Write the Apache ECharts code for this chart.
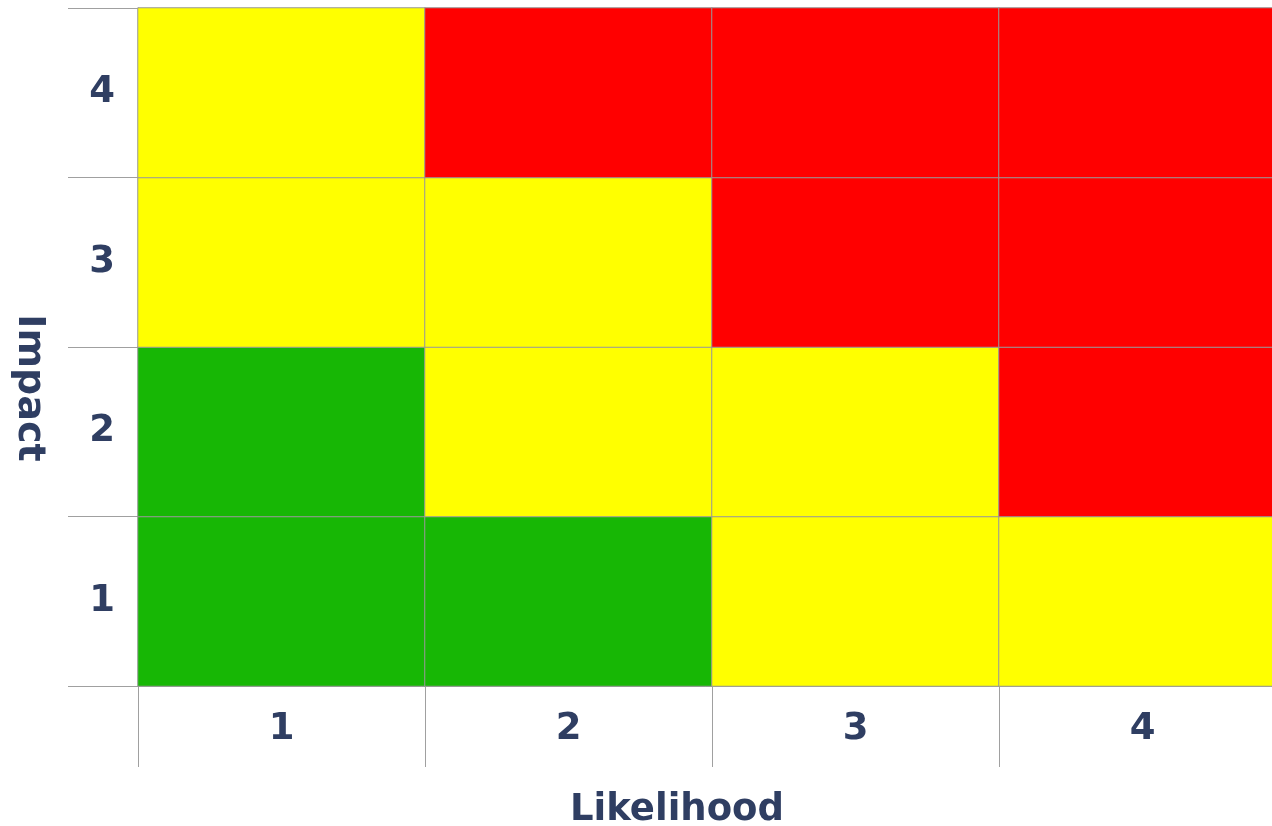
<!DOCTYPE html>
<html><head><meta charset="utf-8">
<script src="https://cdn.jsdelivr.net/npm/echarts@6/dist/echarts.min.js"></script>
<style>html,body{margin:0;padding:0;background:#fff}#c{width:1272px;height:826px}</style>
</head><body><div id="c"></div>
<script>
const likelihood = ['1','2','3','4'];
const impact = ['1','2','3','4'];
// risk level per impact row (1 = low/green, 2 = medium/yellow, 3 = high/red), columns = likelihood 1..4
const impact1 = [1,1,2,2];
const impact2 = [1,2,2,3];
const impact3 = [2,2,3,3];
const impact4 = [2,3,3,3];
const rows = [impact1, impact2, impact3, impact4];
const data = [];
rows.forEach((r, yi) => r.forEach((v, xi) => data.push([xi, yi, v])));
const txt = '#2f3e62';
const font = 'DejaVu Sans';
const chart = echarts.init(document.getElementById('c'));
chart.setOption({
  animation: false,
  grid: {left: 138, right: -14, top: 8, bottom: 140, containLabel: false, outerBoundsMode: 'none'},
  xAxis: {
    type: 'category', data: likelihood,
    name: 'Likelihood', nameLocation: 'middle', nameGap: 106,
    nameTextStyle: {color: txt, fontFamily: font, fontWeight: 'bold', fontSize: 37, padding: [0, 70, 0, 0]},
    axisLine: {show: true, lineStyle: {color: '#a0a0a0', width: 1}},
    axisTick: {show: true, length: 81, lineStyle: {color: '#a0a0a0'}},
    axisLabel: {color: txt, fontFamily: font, fontWeight: 'bold', fontSize: 37, margin: 25},
    splitLine: {show: false}
  },
  yAxis: {
    type: 'category', data: impact,
    name: 'Impact', nameLocation: 'middle', nameGap: 90, nameRotate: -90,
    nameTextStyle: {color: txt, fontFamily: font, fontWeight: 'bold', fontSize: 38, padding: [0, 0, 0, 82]},
    axisLine: {show: true, lineStyle: {color: '#a0a0a0', width: 1}},
    axisTick: {show: true, length: 70, lineStyle: {color: '#a0a0a0'}},
    axisLabel: {color: txt, fontFamily: font, fontWeight: 'bold', fontSize: 37, margin: 23},
    splitLine: {show: false}
  },
  visualMap: {
    show: false, type: 'piecewise', dimension: 2,
    pieces: [{value: 1, color: '#17b705'}, {value: 2, color: '#ffff00'}, {value: 3, color: '#ff0000'}]
  },
  series: [{
    type: 'heatmap', data: data,
    itemStyle: {borderColor: '#999999', borderWidth: 1},
    label: {show: false}
  }]
});
</script></body></html>
